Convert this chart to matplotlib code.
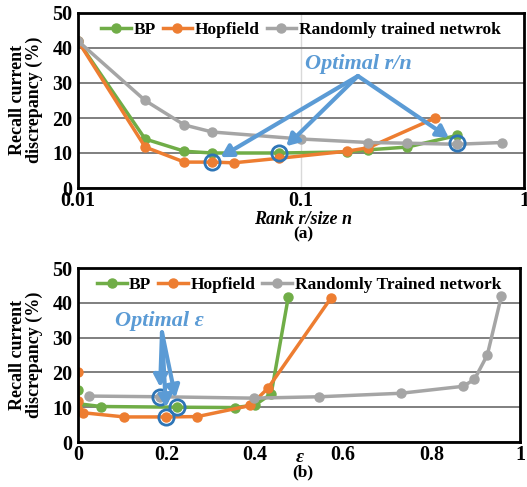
import matplotlib
matplotlib.use("Agg")
import matplotlib.pyplot as plt

# panel (a): recall discrepancy vs rank r/size n
rank_bp = [0.01, 0.02, 0.03, 0.04, 0.08, 0.16, 0.2, 0.3, 0.5]
err_bp = [42, 14, 10.5, 10, 10, 10.3, 10.9, 11.7, 15]
rank_hop = [0.01, 0.02, 0.03, 0.04, 0.05, 0.08, 0.16, 0.2, 0.4]
err_hop = [42, 11.7, 7.4, 7.4, 7.2, 8.5, 10.5, 11.5, 20]
rank_rand = [0.01, 0.02, 0.03, 0.04, 0.1, 0.2, 0.3, 0.5, 0.8]
err_rand = [42, 25, 18, 16, 14, 13, 12.8, 12.5, 13]
opt_rank = [0.04, 0.08, 0.5]
opt_rank_err = [7.4, 10, 12.8]

# panel (b): recall discrepancy vs epsilon
eps_bp = [0, 0, 0.052, 0.225, 0.355, 0.40, 0.437, 0.476]
err_bp_b = [15, 11, 10.2, 10, 9.9, 10.6, 13.8, 41.8]
eps_hop = [0, 0, 0.012, 0.105, 0.2, 0.27, 0.39, 0.43, 0.573]
err_hop_b = [20, 11.8, 8.4, 7.2, 7.2, 7.3, 10.5, 15.5, 41.5]
eps_rand = [0.024, 0.185, 0.398, 0.546, 0.73, 0.871, 0.897, 0.926, 0.958]
err_rand_b = [13.2, 13, 12.6, 13, 14, 16, 18, 25, 42]
opt_eps = [0.185, 0.2, 0.225]
opt_eps_err = [13, 7.2, 10]

green = "#70AD47"
orange = "#ED7D31"
gray = "#A5A5A5"
blue = "#5B9BD5"
ring = "#2E75B6"
serif = ["Liberation Serif", "DejaVu Serif"]

plt.rcParams["font.family"] = serif
plt.rcParams["font.weight"] = "bold"

fig = plt.figure(figsize=(5.27, 4.87), dpi=100)
ax1 = fig.add_axes([78 / 527, 1 - 188 / 487, 446 / 527, 175 / 487])
ax2 = fig.add_axes([78 / 527, 1 - 442 / 487, 442 / 527, 174 / 487])


def style(ax):
    ax.set_ylim(0, 50)
    ax.set_yticks([0, 10, 20, 30, 40, 50])
    ax.grid(axis="y", color="#7F7F7F", lw=1.4)
    ax.set_axisbelow(True)
    for s in ax.spines.values():
        s.set_linewidth(2)
        s.set_color("black")
    ax.tick_params(length=0, labelsize=14.5, pad=4)
    ax.tick_params(axis="x", pad=2)
    for t in ax.get_xticklabels() + ax.get_yticklabels():
        t.set_fontweight("bold")


line_kw = dict(lw=2.5, marker="o", ms=6.5)

ax1.plot(rank_bp, err_bp, color=green, label="BP", **line_kw)
ax1.plot(rank_hop, err_hop, color=orange, label="Hopfield", **line_kw)
ax1.plot(rank_rand, err_rand, color=gray, label="Randomly trained netwrok", **line_kw)
ax1.set_xscale("log")
ax1.set_xlim(0.01, 1)
ax1.set_xticks([0.01, 0.1, 1])
ax1.set_xticklabels(["0.01", "0.1", "1"])
ax1.minorticks_off()
ax1.axvline(0.1, color="#D9D9D9", lw=1, zorder=0)
style(ax1)
ax1.plot(opt_rank, opt_rank_err, ls="none", marker="o", ms=11, mfc="none", mec=ring, mew=2)
ax1.legend(loc="upper center", bbox_to_anchor=(0.5, 1.04), ncol=3, frameon=False,
           handlelength=1.7, handletextpad=0.15, columnspacing=0.4,
           prop={"weight": "bold", "size": 12.5})
ax1.text(0.18, 35.5, "Optimal r/n", color=blue, fontsize=16, fontweight="bold",
         fontstyle="italic", ha="center", va="center")
for i in range(len(opt_rank)):
    ax1.annotate("", xy=(opt_rank[i], opt_rank_err[i]), xytext=(0.18, 32),
                 arrowprops=dict(arrowstyle="-|>,head_length=0.7,head_width=0.4",
                                 color=blue, lw=3, shrinkA=0, shrinkB=7))
fig.text(26 / 527, 1 - 100 / 487, "Recall current\ndiscrepancy (%)", fontsize=13,
         fontweight="bold", rotation=90, ha="center", va="center", linespacing=1.0)
fig.text(303 / 527, 1 - 219 / 487, "Rank r/size n", fontsize=13, fontweight="bold",
         fontstyle="italic", ha="center", va="center")
fig.text(303 / 527, 1 - 234 / 487, "(a)", fontsize=12.5, fontweight="bold",
         ha="center", va="center")

ax2.plot(eps_bp, err_bp_b, color=green, label="BP", **line_kw)
ax2.plot(eps_hop, err_hop_b, color=orange, label="Hopfield", **line_kw)
ax2.plot(eps_rand, err_rand_b, color=gray, label="Randomly Trained network", **line_kw)
ax2.set_xlim(0, 1)
ax2.set_xticks([0, 0.2, 0.4, 0.6, 0.8, 1])
ax2.set_xticklabels(["0", "0.2", "0.4", "0.6", "0.8", "1"])
style(ax2)
ax2.plot(opt_eps, opt_eps_err, ls="none", marker="o", ms=11, mfc="none", mec=ring, mew=2)
ax2.legend(loc="upper center", bbox_to_anchor=(0.5, 1.04), ncol=3, frameon=False,
           handlelength=1.7, handletextpad=0.15, columnspacing=0.4,
           prop={"weight": "bold", "size": 12.5})
ax2.text(0.185, 34.8, "Optimal \u03b5", color=blue, fontsize=16, fontweight="bold",
         fontstyle="italic", ha="center", va="center")
for i in range(len(opt_eps)):
    ax2.annotate("", xy=(opt_eps[i], opt_eps_err[i]), xytext=(0.19, 31.5),
                 arrowprops=dict(arrowstyle="-|>,head_length=0.7,head_width=0.4",
                                 color=blue, lw=3, shrinkA=0, shrinkB=7))
fig.text(26 / 527, 1 - 355 / 487, "Recall current\ndiscrepancy (%)", fontsize=13,
         fontweight="bold", rotation=90, ha="center", va="center", linespacing=1.0)
fig.text(300 / 527, 1 - 457 / 487, "\u03b5", fontsize=14, fontweight="bold",
         fontstyle="italic", ha="center", va="center")
fig.text(303 / 527, 1 - 472 / 487, "(b)", fontsize=12.5, fontweight="bold",
         ha="center", va="center")

fig.savefig("out.png", dpi=100)
